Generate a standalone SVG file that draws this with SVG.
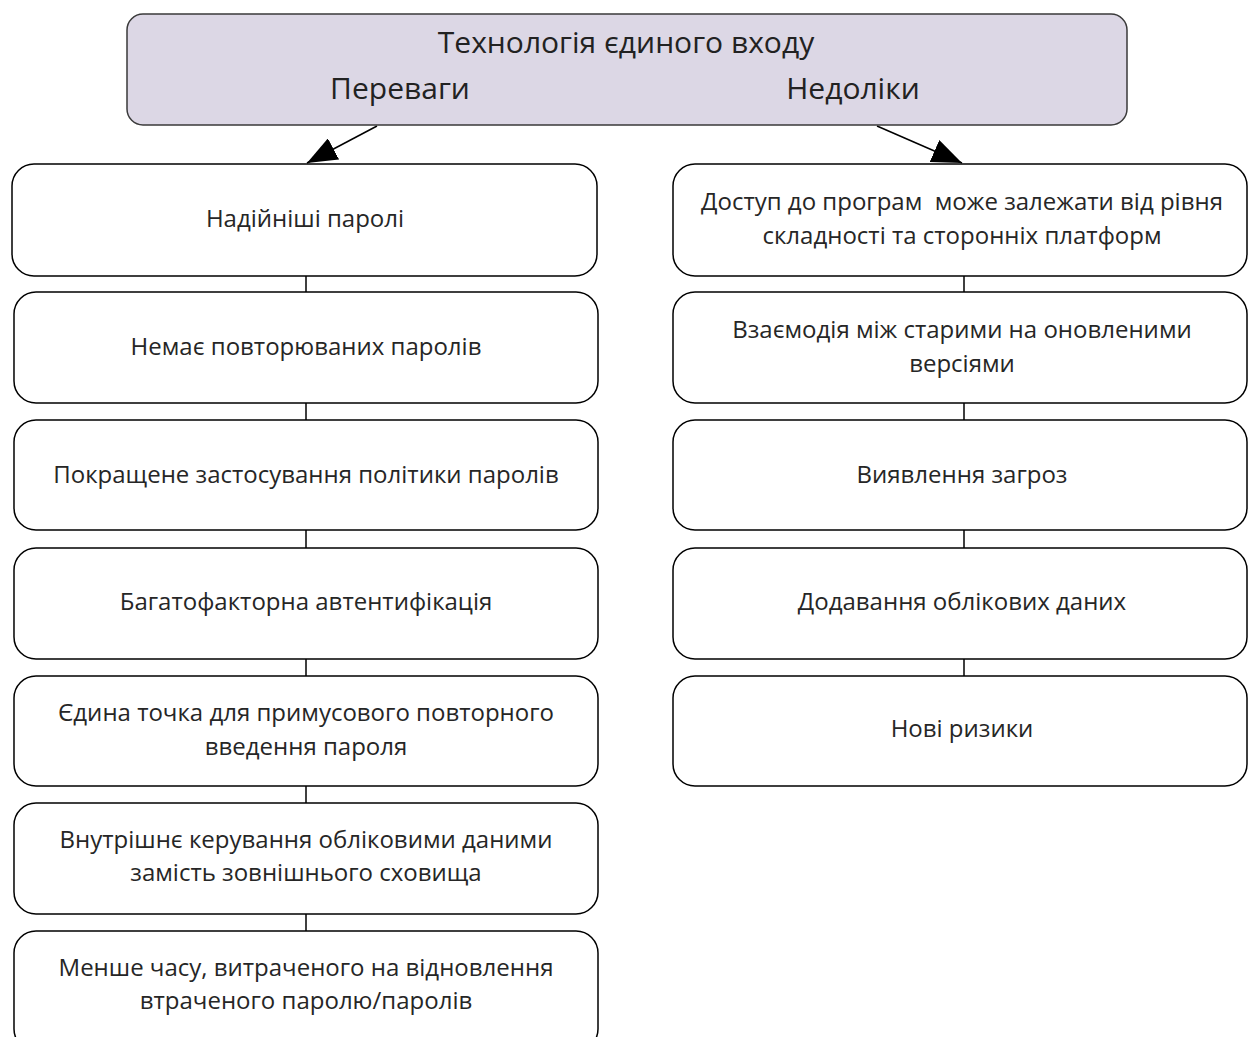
<svg xmlns="http://www.w3.org/2000/svg" width="1248" height="1037" viewBox="0 0 1248 1037">
<style>
.box{fill:#ffffff;stroke:#000000;stroke-width:1.5}
.top{fill:#dcd7e5;stroke:#3a3a3a;stroke-width:1.5}
.t{font-family:"Open Sans","Noto Sans","DejaVu Sans",sans-serif;font-size:24px;fill:#262626;text-anchor:middle}
.h{font-family:"Open Sans","Noto Sans","DejaVu Sans",sans-serif;font-size:30px;fill:#222222;text-anchor:middle}
.c{stroke:#000000;stroke-width:1.5;fill:none}
</style>
<defs>
<marker id="arrow" viewBox="0 0 30 24" refX="30" refY="12" markerWidth="30" markerHeight="24" markerUnits="userSpaceOnUse" orient="auto">
<path d="M0,0 L30,12 L0,24 Z" fill="#000"/>
</marker>
</defs>
<rect width="1248" height="1037" fill="#ffffff"/>
<g id="connectors">
<line class="c" x1="377" y1="126" x2="307" y2="163" marker-end="url(#arrow)"/>
<line class="c" x1="877" y1="126" x2="962" y2="163" marker-end="url(#arrow)"/>
<line class="c" x1="306" y1="276" x2="306" y2="292"/>
<line class="c" x1="306" y1="403" x2="306" y2="420"/>
<line class="c" x1="306" y1="530" x2="306" y2="548"/>
<line class="c" x1="306" y1="659" x2="306" y2="676"/>
<line class="c" x1="306" y1="786" x2="306" y2="803"/>
<line class="c" x1="306" y1="914" x2="306" y2="931"/>
<line class="c" x1="964" y1="276" x2="964" y2="292"/>
<line class="c" x1="964" y1="403" x2="964" y2="420"/>
<line class="c" x1="964" y1="530" x2="964" y2="548"/>
<line class="c" x1="964" y1="659" x2="964" y2="676"/>
</g>
<g id="root">
<rect class="top" x="127" y="14" width="1000" height="111" rx="16"/>
<text class="h" x="626" y="53">Технологія єдиного входу</text>
<text class="h" x="400" y="99">Переваги</text>
<text class="h" x="853" y="99">Недоліки</text>
</g>
<g id="l1"><rect class="box" x="12" y="164" width="585" height="112" rx="22"/><text class="t" x="305" y="227">Надійніші паролі</text></g>
<g id="l2"><rect class="box" x="14" y="292" width="584" height="111" rx="22"/><text class="t" x="306" y="355">Немає повторюваних паролів</text></g>
<g id="l3"><rect class="box" x="14" y="420" width="584" height="110" rx="22"/><text class="t" x="306" y="483">Покращене застосування політики паролів</text></g>
<g id="l4"><rect class="box" x="14" y="548" width="584" height="111" rx="22"/><text class="t" x="306" y="610">Багатофакторна автентифікація</text></g>
<g id="l5"><rect class="box" x="14" y="676" width="584" height="110" rx="22"/><text class="t" x="306" y="721">Єдина точка для примусового повторного</text><text class="t" x="306" y="755">введення пароля</text></g>
<g id="l6"><rect class="box" x="14" y="803" width="584" height="111" rx="22"/><text class="t" x="306" y="848">Внутрішнє керування обліковими даними</text><text class="t" x="306" y="881">замість зовнішнього сховища</text></g>
<g id="l7"><rect class="box" x="14" y="931" width="584" height="120" rx="22"/><text class="t" x="306" y="976">Менше часу, витраченого на відновлення</text><text class="t" x="306" y="1009">втраченого паролю/паролів</text></g>
<g id="r1"><rect class="box" x="673" y="164" width="574" height="112" rx="22"/><text class="t" x="962" y="210" xml:space="preserve">Доступ до програм  може залежати від рівня</text><text class="t" x="962" y="244">складності та сторонніх платформ</text></g>
<g id="r2"><rect class="box" x="673" y="292" width="574" height="111" rx="22"/><text class="t" x="962" y="338">Взаємодія між старими на оновленими</text><text class="t" x="962" y="372">версіями</text></g>
<g id="r3"><rect class="box" x="673" y="420" width="574" height="110" rx="22"/><text class="t" x="962" y="483">Виявлення загроз</text></g>
<g id="r4"><rect class="box" x="673" y="548" width="574" height="111" rx="22"/><text class="t" x="962" y="610">Додавання облікових даних</text></g>
<g id="r5"><rect class="box" x="673" y="676" width="574" height="110" rx="22"/><text class="t" x="962" y="737">Нові ризики</text></g>
</svg>
